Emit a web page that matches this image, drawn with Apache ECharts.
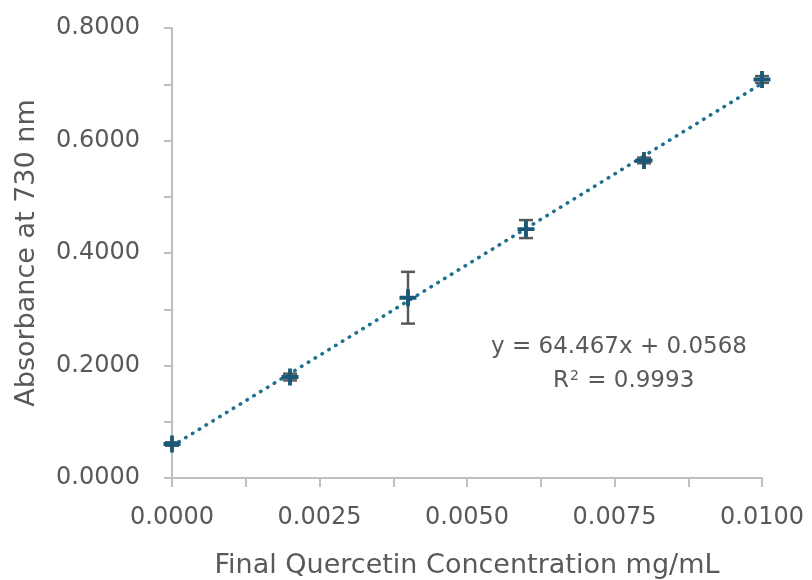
<!DOCTYPE html>
<html>
<head>
<meta charset="utf-8">
<script src="https://cdn.jsdelivr.net/npm/echarts@6/dist/echarts.min.js"></script>
<style>
  html, body { margin: 0; padding: 0; background: #fff; }
  #chart { width: 812px; height: 580px; }
</style>
</head>
<body>
<div id="chart"></div>
<script>
// 浓度 (mg/mL) 与吸光度
var concentrations = [0, 0.002, 0.004, 0.006, 0.008, 0.01];
var absorbance = [0.0604, 0.1795, 0.3205, 0.4425, 0.5645, 0.7085];
var errors = [0.003, 0.006, 0.046, 0.016, 0.005, 0.006];
// 趋势线端点 (y = 64.467x + 0.0568)
var trendLine = [[0, 0.0568], [0.01, 0.7015]];
var equationText = "y = 64.467x + 0.0568";
var rSquaredText = "0.9993";

var FONT = "DejaVu Sans";
var TEXT_COLOR = "#595959";
var AXIS_COLOR = "#bfbfbf";
var MARK_COLOR = "#1a5877";

var points = concentrations.map(function (x, i) { return [x, absorbance[i]]; });
var errData = concentrations.map(function (x, i) {
  return [x, absorbance[i] - errors[i], absorbance[i] + errors[i]];
});

var chart = echarts.init(document.getElementById("chart"));
chart.setOption({
  animation: false,
  grid: { left: 172, right: 50, top: 28, bottom: 102, containLabel: false, outerBoundsMode: "none" },
  xAxis: {
    type: "value",
    min: 0,
    max: 0.01,
    interval: 0.0025,
    name: "Final Quercetin Concentration mg/mL",
    nameLocation: "middle",
    nameGap: 74,
    nameTextStyle: { fontFamily: FONT, fontSize: 27, color: TEXT_COLOR },
    axisLine: { show: true, onZero: false, lineStyle: { color: AXIS_COLOR, width: 2 } },
    axisTick: { show: true, length: 9, lineStyle: { color: AXIS_COLOR, width: 2 } },
    minorTick: { show: true, splitNumber: 2, length: 9, lineStyle: { color: AXIS_COLOR, width: 2 } },
    splitLine: { show: false },
    axisLabel: {
      fontFamily: FONT, fontSize: 24, color: TEXT_COLOR, margin: 28,
      formatter: function (v) { return v.toFixed(4); }
    }
  },
  yAxis: {
    type: "value",
    min: 0,
    max: 0.8,
    interval: 0.2,
    name: "Absorbance at 730 nm",
    nameLocation: "middle",
    nameGap: 132,
    nameTextStyle: { fontFamily: FONT, fontSize: 27, color: TEXT_COLOR },
    axisLine: { show: true, onZero: false, lineStyle: { color: AXIS_COLOR, width: 2 } },
    axisTick: { show: true, length: 8, lineStyle: { color: AXIS_COLOR, width: 2 } },
    minorTick: { show: true, splitNumber: 2, length: 8, lineStyle: { color: AXIS_COLOR, width: 2 } },
    splitLine: { show: false },
    axisLabel: {
      fontFamily: FONT, fontSize: 24, color: TEXT_COLOR, margin: 32,
      formatter: function (v) { return v.toFixed(4); }
    }
  },
  series: [
    {
      // 误差线
      type: "custom",
      data: errData,
      z: 2,
      renderItem: function (params, api) {
        var lo = api.coord([api.value(0), api.value(1)]);
        var hi = api.coord([api.value(0), api.value(2)]);
        var w = 7;
        var style = { stroke: TEXT_COLOR, lineWidth: 2.5 };
        return {
          type: "group",
          children: [
            { type: "line", shape: { x1: lo[0], y1: lo[1], x2: hi[0], y2: hi[1] }, style: style },
            { type: "line", shape: { x1: lo[0] - w, y1: lo[1], x2: lo[0] + w, y2: lo[1] }, style: style },
            { type: "line", shape: { x1: hi[0] - w, y1: hi[1], x2: hi[0] + w, y2: hi[1] }, style: style }
          ]
        };
      }
    },
    {
      // 线性趋势线
      type: "line",
      data: trendLine,
      symbol: "none",
      z: 3,
      lineStyle: { color: "#1f6f91", width: 3.5, type: [0.5, 7.5], cap: "round" }
    },
    {
      type: "scatter",
      data: points,
      z: 4,
      symbol: "path://M6.2,0h3.6v6.2h6.2v3.6h-6.2v6.2h-3.6v-6.2h-6.2v-3.6h6.2z",
      symbolSize: 17,
      itemStyle: { color: MARK_COLOR, opacity: 1 }
    }
  ],
  graphic: [
    {
      type: "text",
      left: 491,
      top: 336,
      style: { text: equationText, font: "23px " + FONT, fill: TEXT_COLOR }
    },
    {
      type: "text",
      left: 553,
      top: 369,
      style: {
        text: "R{sup|2} = " + rSquaredText,
        font: "23px " + FONT,
        fill: TEXT_COLOR,
        rich: { sup: { fontSize: 14, fontFamily: FONT, fill: TEXT_COLOR, verticalAlign: "top", padding: [0, 1, 10, 1] } }
      }
    }
  ]
});
</script>
</body>
</html>
